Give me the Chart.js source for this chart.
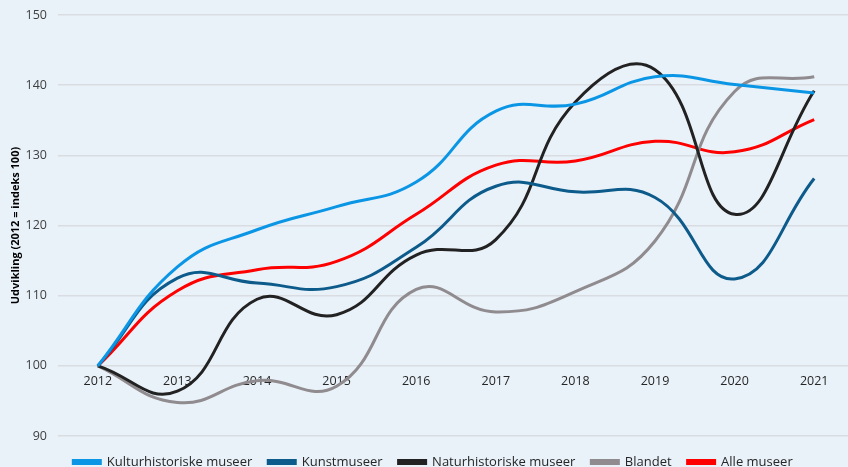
<!DOCTYPE html>
<html>
<head>
<meta charset="utf-8">
<script src="https://cdn.jsdelivr.net/npm/chart.js@4.4.1/dist/chart.umd.min.js"></script>
<style>
  html, body { margin: 0; padding: 0; overflow: hidden; background: #e9f1f9; }
  #wrap { width: 854px; height: 467px; }
</style>
</head>
<body>
<div id="wrap"><canvas id="chart"></canvas></div>
<script>
const years = ['2012', '2013', '2014', '2015', '2016', '2017', '2018', '2019', '2020', '2021'];
const yTicks = [90, 100, 110, 120, 130, 140, 150];

const kulturhistoriske = [100, 114.1, 119.4, 122.7, 126.2, 136.3, 137.3, 141.2, 140.1, 138.9];
const kunstmuseer = [100, 112.5, 111.8, 111.3, 116.9, 125.6, 124.8, 124.0, 112.4, 126.7];
const naturhistoriske = [100, 96.4, 109.5, 107.3, 115.8, 118.0, 137.6, 142.2, 121.6, 139.2];
const blandet = [100, 94.8, 97.9, 97.1, 110.9, 107.7, 110.6, 117.8, 139.1, 141.2];
const alleMuseer = [100, 110.7, 113.7, 114.9, 121.6, 128.6, 129.2, 132.0, 130.5, 135.1];

const FONT = "'Open Sans', sans-serif";

const makeSet = (label, data, color) => ({
    label: label,
    data: data,
    borderColor: color,
    backgroundColor: color,
    borderWidth: 3,
    pointRadius: 0,
    tension: 0.45,
    fill: false
});

new Chart(document.getElementById('chart'), {
    type: 'line',
    data: {
        labels: years,
        datasets: [
            makeSet('Kulturhistoriske museer', kulturhistoriske, '#0b96e5'),
            makeSet('Kunstmuseer', kunstmuseer, '#0c5b8b'),
            makeSet('Naturhistoriske museer', naturhistoriske, '#222222'),
            makeSet('Blandet', blandet, '#8f8b8e'),
            makeSet('Alle museer', alleMuseer, '#ff0000')
        ]
    },
    options: {
        responsive: true,
        maintainAspectRatio: false,
        animation: false,
        layout: { padding: { left: 12, right: 0, top: 15, bottom: -11.5 } },
        plugins: {
            tooltip: { enabled: false },
            legend: {
                position: 'bottom',
                // tiny empty title just to push the legend rows down a few px
                title: { display: true, text: ' ', font: { size: 2 }, padding: { top: 1, bottom: 0 } },
                labels: {
                    boxWidth: 27,
                    boxHeight: 3,
                    padding: 16,
                    color: '#262626',
                    font: { family: FONT, size: 13 }
                }
            }
        },
        scales: {
            x: {
                position: { y: 100 },
                offset: true,
                grid: { display: false, drawTicks: false },
                border: { display: false },
                ticks: {
                    color: '#262626',
                    padding: 8,
                    maxRotation: 0,
                    font: { family: FONT, size: 12.5 }
                }
            },
            y: {
                min: 90,
                max: 150,
                afterBuildTicks: (scale) => {
                    scale.ticks = yTicks.map(v => ({ value: v }));
                },
                afterFit: (scale) => {
                    scale.width = 46;
                    scale.paddingTop = 0;
                    scale.paddingBottom = 0;
                },
                grid: { color: '#d9dde2', lineWidth: 1.5, drawTicks: false },
                border: { display: false },
                ticks: {
                    color: '#404040',
                    padding: 11,
                    font: { family: FONT, size: 12.5 }
                },
                title: {
                    display: true,
                    text: 'Udvikling (2012 = indeks 100)',
                    color: '#000000',
                    padding: { top: -3, bottom: 0 },
                    font: { family: FONT, size: 11, weight: 'bold' }
                }
            }
        }
    }
});
</script>
</body>
</html>
